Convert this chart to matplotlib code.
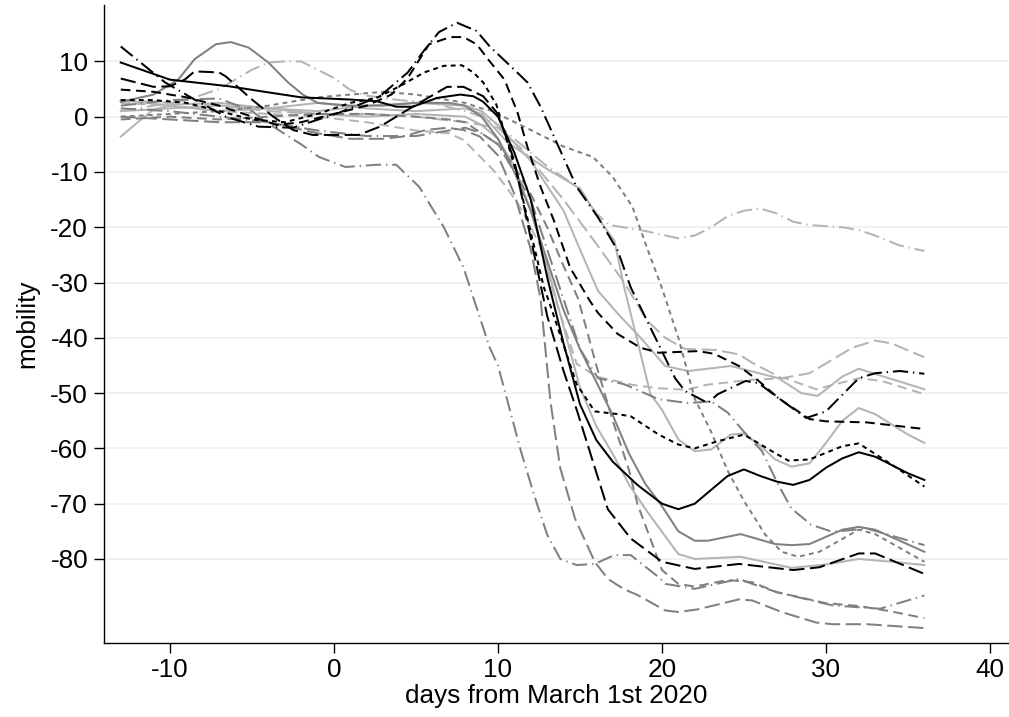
import matplotlib
matplotlib.use("Agg")
import matplotlib.pyplot as plt

plt.rcParams['font.family'] = ['Liberation Sans', 'DejaVu Sans']
plt.rcParams['lines.scale_dashes'] = False
plt.rcParams['axes.unicode_minus'] = False

# ---- data (day from March 1st 2020, mobility) ----
lgdd_x = [-13, -11, -9, -7, -5, -4, -3, -2, -1, 0, 1, 2, 4, 6, 8, 9, 10, 11, 12, 13, 14, 15, 16, 16.8, 18.7, 21, 22, 23, 24, 25, 26, 27, 28, 29, 31, 32, 33, 34.5, 36]
lgdd_y = [1, 2, 3, 5, 8.5, 9.8, 10, 10, 8.5, 7, 4.8, 3.8, 3, 2.5, 1, 0, -1.5, -4, -6.5, -9, -11, -13, -17.5, -19.6, -20.5, -22, -21.5, -20, -18, -17, -16.6, -17.5, -19, -19.6, -20, -20.5, -21.5, -23.3, -24.3]

lgld_x = [-13, -10, -7, -4, -1, 2, 5, 8, 10, 11.5, 14, 16, 17.7, 19.1, 20.2, 21.4, 23.3, 24.7, 25.5, 27.3, 29, 31.6, 33, 34, 36]
lgld_y = [3, 2.5, 2, 1, 0.5, 0.5, 0, -1, -2, -6, -15, -23, -30, -36.9, -40, -42, -42.2, -43, -44.5, -47.3, -46.4, -41.8, -40.5, -41, -43.5]

kdd_x = [-13, -11.5, -10.3, -8.5, -6.6, -4.6, -2.5, 0.3, 2.8, 4.5, 5.5, 6.4, 7.5, 8.7, 9.5, 11, 11.8, 12.6, 13.6, 14.8, 16.1, 17.3, 18.1, 19.6, 20.8, 21.4, 22.8, 23.4, 25.1, 25.9, 27.1, 28.8, 30, 32, 33, 34.5, 36]
kdd_y = [12.7, 9.1, 6.2, 3.1, 0, -1.8, -2, 0.7, 3.7, 8, 12, 15.3, 17, 15.5, 12.7, 8.5, 6.2, 1.8, -4.8, -12.7, -18.2, -24.2, -30.9, -40, -47.3, -49.6, -51.8, -50.2, -47.8, -48.2, -50.9, -54.5, -53.3, -47.3, -46.4, -46, -46.5]

lgs1_x = [-13, -10, -7, -4, -1, 2, 5, 8, 9, 10, 12, 14, 15, 16.1, 17.3, 18.7, 20.2, 21.6, 24.2, 27.1, 28.5, 29.5, 31, 32, 33.4, 36]
lgs1_y = [1, 1.5, 2, 1.5, 1, 2, 2.5, 2, 1, -1.5, -8, -17, -24, -31.5, -35.6, -40, -45.1, -46, -45.1, -47.3, -50, -50.5, -47, -45.6, -46.9, -49.3]

lgd_x = [-13, -10, -7, -4, -1, 2, 5, 7, 7.9, 9.7, 10.5, 11.2, 12, 12.6, 13.5, 14.8, 16, 18.2, 19.7, 21.5, 22.7, 25.4, 27.5, 29.4, 32, 33.4, 36]
lgd_y = [2.5, 2, 1, 0.5, 0, -1, -2.5, -3, -4.2, -9.6, -12.7, -15.6, -20, -23.5, -33, -44.7, -47, -48.5, -49.1, -49.4, -48.5, -47.6, -47.3, -49.3, -47.3, -47.8, -50.2]

kd_x = [-13, -11, -9, -7, -5, -3.5, -2, 0, 2, 3.5, 4.5, 5.8, 7.1, 7.9, 8.7, 9.5, 10.4, 11.2, 11.8, 12.6, 13.4, 14.4, 15.6, 16.1, 17.3, 18.7, 19.8, 22.2, 23.2, 24.7, 25.9, 27.1, 29, 30, 32.5, 36]
kd_y = [4.9, 4.5, 3.5, 2, 0, -1.5, -1, 0.5, 2, 4, 7, 13.1, 14.4, 14.4, 13.1, 10, 6.7, 0.7, -5.5, -12.7, -18.7, -27.3, -33.3, -35.5, -39.3, -41.8, -42.7, -42.4, -42.9, -45.1, -47.8, -50.9, -54.7, -55.1, -55.3, -56.5]

lgs2_x = [-13, -10, -7, -4, -1, 2, 5, 8, 9, 10.6, 12.8, 15, 16.5, 17.1, 17.7, 18.5, 19.3, 20, 21, 22, 23, 24.2, 25, 26, 26.9, 27.9, 29, 30, 31, 32, 33, 35, 36]
lgs2_y = [3, 2, 1, 1.5, 2.5, 1.5, 1, 1.5, 0.5, -4.7, -9.1, -13, -20, -22.4, -30.9, -40.5, -50.2, -53, -58.4, -60.5, -60.2, -57.5, -57.3, -59.5, -62, -63.3, -62.7, -59, -55, -52.7, -53.8, -57.5, -59]

ksd_x = [-13, -11, -9, -7, -5, -3, -1, 1, 2.6, 4, 5.5, 6.7, 7.8, 8.5, 9.1, 9.9, 11.2, 12.8, 13.1, 14.8, 15.9, 17.3, 18.1, 19.8, 21, 22, 23.4, 25, 26.7, 27.7, 29, 31, 32, 34, 36]
ksd_y = [3, 3, 2.5, 1, -0.5, -1, 0.5, 2.5, 3.4, 5.5, 8, 9.2, 9.3, 8, 6.2, 2.2, -10.9, -30.9, -33.3, -48.4, -53.3, -53.8, -54.2, -57.5, -59.3, -60, -58.7, -57.5, -60.5, -62.2, -62, -59.6, -59.1, -62.9, -66.9]

ks_x = [-13, -10, -6.4, -4, -2, 1, 2.6, 3.8, 4.8, 6.3, 7.7, 8.5, 9.1, 10, 11, 12, 13, 14, 15, 16, 17, 18.5, 20, 21, 22, 23, 24, 25, 26, 27, 28, 29, 30, 31, 32, 33, 34, 35, 36]
ks_y = [9.8, 6.7, 5.5, 4.4, 3.5, 3.1, 2.8, 1.8, 1.8, 3.4, 4, 3.7, 2.7, 0, -6.5, -15, -29, -41, -52, -58.5, -62.4, -66.6, -70, -71, -70, -67.5, -65, -63.8, -65, -66, -66.6, -65.7, -63.5, -61.8, -60.7, -61.5, -63, -64.5, -65.7]

gs_x = [-13, -11, -9.5, -8.5, -7.2, -6.3, -5.2, -4, -2.8, -1.9, -1, 1, 3, 5, 7, 8, 9, 10, 11, 12, 13, 14, 15, 16, 17, 18, 19, 19.9, 21, 22, 22.8, 24.8, 26.9, 27.9, 29, 31, 32, 33, 36]
gs_y = [2.7, 4, 6.7, 10.4, 13.1, 13.5, 12.5, 9.8, 6.2, 4, 2.5, 2, 2, 2.5, 2.5, 2, 0, -4, -10, -17, -26, -35, -42, -48, -54, -61, -66.5, -70, -75, -76.7, -76.7, -75.5, -77.3, -77.5, -77.3, -74.7, -74.2, -74.7, -78.7]

gdd_x = [-13, -10, -7, -4, -1, 2, 5, 7, 8, 9, 10, 12, 14, 15, 16.1, 17.7, 19.8, 21.6, 23, 24, 25, 26.1, 27.1, 27.9, 29.1, 30.4, 32.5, 36]
gdd_y = [1.5, 1, 0, -1, -2.5, -3.5, -3.5, -2.5, -2, -3, -5, -15, -33, -42, -47.3, -48.4, -51.1, -51.8, -51.5, -53.5, -57, -60.5, -66.6, -70.9, -73.8, -75.1, -74.5, -77.5]

gsd_x = [-13, -10, -7, -4, -1, 1, 3, 5, 7, 8, 9, 9.5, 12, 14, 15.8, 17, 18.2, 19, 20, 21, 22, 23, 24, 25, 26.3, 27.3, 28.3, 29.6, 32, 33, 36]
gsd_y = [0, 0.5, 1, 2, 3.5, 4, 4.5, 4, 3, 2.5, 1.5, 1.2, -2.4, -5.4, -7.3, -10.9, -16.3, -23, -31, -40, -51, -57, -64, -69.5, -75.6, -78.7, -79.6, -78.7, -74.7, -75.5, -80.5]

lgs3_x = [-13, -12, -11, -9.7, -7, -4, -1, 2, 5, 8, 9, 10, 11, 12, 13, 14, 15, 16, 17, 18, 19, 20, 21, 22, 24.8, 27.9, 30, 32, 34, 36]
lgs3_y = [-3.6, -1.1, 1.3, 2.2, 2.5, 1.5, 0.5, 0, 0.5, 0, -1.5, -4, -9, -17, -27, -38, -49, -56, -61, -66.6, -71, -75.1, -79.1, -80, -79.6, -81.6, -81, -80, -80.5, -81.1]

kld_x = [-13, -11, -10, -9.1, -8.5, -7, -6.6, -5, -3.7, -2.5, -1.3, 1.5, 2.8, 3.8, 4.8, 6.9, 7.9, 9.1, 10, 11, 12, 13, 14, 14.8, 16.7, 18.1, 20, 22, 24.7, 28, 29.6, 32, 33, 36]
kld_y = [6.9, 5.4, 5.5, 6.7, 8.2, 8, 7.3, 3.1, 0, -2.4, -3.3, -3.3, -1.8, 0, 1.8, 5.4, 5.4, 3.7, 0.5, -8, -22, -36, -46, -53, -71, -76.3, -80.5, -81.8, -80.9, -82, -81.5, -79, -79, -82.7]

gdd2_x = [-13, -10, -7, -5, -3.7, -2, -0.9, 0.7, 2.6, 3.8, 5.2, 6.7, 7.9, 9.5, 10, 11.4, 12.2, 13, 13.8, 14.8, 15.9, 17.1, 18.1, 19.8, 20.2, 22, 24.7, 25.5, 27, 30.4, 33.3, 36]
gdd2_y = [2, 3, 3.3, 1, -1.8, -5, -7.3, -9.1, -8.7, -8.7, -12.7, -20, -27.3, -41.8, -45, -60.5, -68.4, -75.6, -80, -81.1, -80.9, -79.3, -79.3, -83.3, -84.5, -85.4, -83.6, -84.5, -86, -88.4, -89, -86.6]

gd_x = [-13, -10, -7, -4, -1, 2, 5, 7, 8, 10, 11, 12, 13, 14, 14.9, 16, 17, 18, 18.5, 19.5, 20, 21, 22, 24, 25.5, 27, 30, 32, 34, 36]
gd_y = [-0.5, 0, -0.5, 0, 0.5, 0.5, 0, -0.5, -1, -5, -9, -14, -20, -27, -33, -45, -55, -64, -70, -78, -82, -84.5, -85, -83.8, -84.2, -86, -88, -88.5, -89.5, -90.7]

gld_x = [-13, -10, -7, -4, -1, 1, 3, 4.2, 5.6, 6.9, 7.9, 8.9, 10, 11, 12, 12.6, 13.2, 13.8, 14.7, 15.9, 16.7, 17.7, 18.5, 20.2, 21, 22.2, 24.7, 25.5, 27.3, 29.4, 30.4, 32.5, 36]
gld_y = [0, -0.5, -1, -1, -3, -4, -4, -3.6, -2.4, -2, -2.4, -3.6, -7, -14, -24, -33, -51.5, -63.6, -72.7, -80.5, -83.6, -85.5, -86.5, -89.3, -89.6, -89.1, -87.3, -87.5, -89.6, -91.5, -91.8, -91.8, -92.5]

# ---- drawing ----
black, grey, light = '#000000', '#808080', '#b4b4b4'
solid = '-'
longdash = (0, (11, 4))
dash = (0, (7, 4))
shortdash = (0, (3.5, 3))
dashdot = (0, (11, 3.5, 1, 3.5))

series = [
    (lgdd_x, lgdd_y, light, dashdot),
    (lgld_x, lgld_y, light, longdash),
    (lgs1_x, lgs1_y, light, solid),
    (lgd_x, lgd_y, light, dash),
    (lgs2_x, lgs2_y, light, solid),
    (lgs3_x, lgs3_y, light, solid),
    (gs_x, gs_y, grey, solid),
    (gdd_x, gdd_y, grey, dashdot),
    (gsd_x, gsd_y, grey, shortdash),
    (gdd2_x, gdd2_y, grey, dashdot),
    (gd_x, gd_y, grey, dash),
    (gld_x, gld_y, grey, longdash),
    (kdd_x, kdd_y, black, dashdot),
    (kd_x, kd_y, black, dash),
    (ksd_x, ksd_y, black, shortdash),
    (ks_x, ks_y, black, solid),
    (kld_x, kld_y, black, longdash),
]

fig = plt.figure(figsize=(10.09, 7.17), dpi=100)
ax = fig.add_axes([0.1031, 0.1032, 0.8959, 0.8898])

for xs, ys, col, ls in series:
    ax.plot(xs, ys, color=col, linestyle=ls, linewidth=1.45)

ax.set_xlim(-14.02, 41.1)
ax.set_ylim(-95.2, 20.2)
ax.set_xticks(range(-10, 41, 10))
ax.set_yticks(range(-80, 11, 10))
ax.yaxis.grid(True, color='#eaf2f3', linewidth=1.3)
ax.set_axisbelow(True)
for side in ['top', 'right']:
    ax.spines[side].set_visible(False)
for side in ['left', 'bottom']:
    ax.spines[side].set_linewidth(1.0)
ax.tick_params(axis='both', length=7.5, width=1.0, labelsize=18.8, direction='out')
ax.tick_params(axis='y', pad=4)
ax.tick_params(axis='x', pad=3)
ax.set_xlabel('days from March 1st 2020', fontsize=18.8, labelpad=2)
ax.set_ylabel('mobility', fontsize=18.8, labelpad=8)

fig.savefig('out.png', dpi=100)
